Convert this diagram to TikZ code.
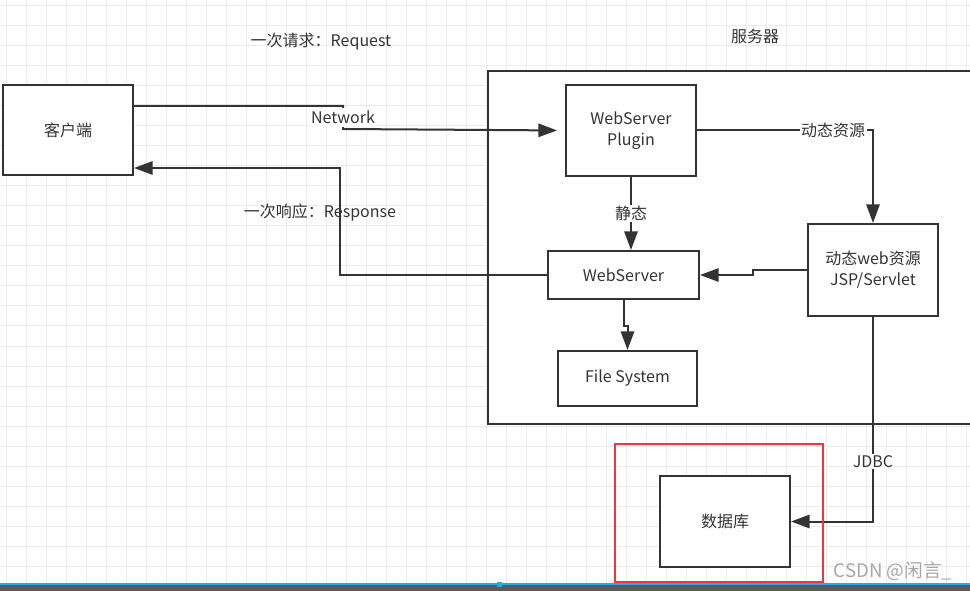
\documentclass[tikz,border=0pt]{standalone}
\usepackage{fontspec}
\setmainfont{Noto Sans CJK SC}
\usepackage{tikz}
\usetikzlibrary{arrows.meta}
\definecolor{linec}{HTML}{333333}
\definecolor{gridc}{HTML}{EBEBEB}
\definecolor{redc}{HTML}{F23535}
\definecolor{barc}{HTML}{5A5A5A}
\definecolor{bluec}{HTML}{2AA9E0}

\begin{document}
\begin{tikzpicture}[x=0.75pt,y=-0.75pt,
        font=\fontsize{12}{15.75}\selectfont,
        box/.style={draw=linec,line width=1.5pt,fill=white,align=center,inner sep=0pt,text=linec},
        conn/.style={draw=linec,line width=1.5pt,-{Triangle[length=14pt,width=10pt]}},
        lbl/.style={fill=white,inner sep=1pt,text=linec}]
        \useasboundingbox (0,0) rectangle (970,591);
        \clip (0,0) rectangle (970,591);

        % grid
        \foreach \gx in {6.5,26.5,...,966.5}
            \draw[gridc,line width=0.75pt] (\gx,0) -- (\gx,591);
        \foreach \gy in {6,26,...,586}
            \draw[gridc,line width=0.75pt] (0,\gy) -- (970,\gy);

        % server
        \draw[box] (488,71) rectangle (990,424);
        \node[text=linec] (srv) at (755,36) {服务器};
        \node[text=linec] (req) at (321,42) {一次请求：Request};
        \node[text=linec] (resp) at (320,213) {一次响应：Response};

        \node[box,minimum width=97.5pt,minimum height=67.5pt] (client) at (68,130) {客户端};
        \node[box,minimum width=97.5pt,minimum height=68.25pt] (plugin) at (631,130.5) {WebServer\\Plugin};
        \node[box,minimum width=97.5pt,minimum height=69pt] (dyn) at (873,270) {动态web资源\\JSP/Servlet};
        \node[box,minimum width=113.25pt,minimum height=36pt] (ws) at (623.5,275) {WebServer};
        \node[box,minimum width=104.25pt,minimum height=41.25pt] (fs) at (627.5,378.5) {File System};
        \node[box,minimum width=97.5pt,minimum height=68.25pt] (db) at (725,521.5) {数据库};

        % connectors
        \draw[conn,shorten >=6pt] ([yshift=18pt]client.east) -- (343,106) -- (343,129) node[lbl,midway,inner ysep=2.5pt]{Network} -- (plugin.west);
        \draw[conn] (ws.west) -- ++(-207,0) |- ([yshift=6pt]client.south east);
        \draw[conn] (plugin.east) -| (dyn.north) node[lbl,pos=0.387]{动态资源};
        \draw[conn] (plugin.south) -- (plugin.south |- ws.north) node[lbl,midway]{静态};
        \draw[conn] (dyn.west) -- ++(-54,0) |- (ws.east);
        \draw[conn] (ws.south) -- ++(0,26) -| (fs.north);
        \draw[conn] (dyn.south) |- (db.east) node[lbl,pos=0.353]{JDBC};

        \draw[redc,line width=2.2pt] (615,444) rectangle (823,582);
        \node[text=gray!70,font=\fontsize{14}{16}\selectfont] (mark) at (893,571) {CSDN @闲言\_};

        % bottom bar
        \fill[barc] (0,585) rectangle (970,591);
        \fill[bluec] (0,583) rectangle (970,585);
        \fill[bluec] (497,581.5) rectangle (502,587);
\end{tikzpicture}
\end{document}
